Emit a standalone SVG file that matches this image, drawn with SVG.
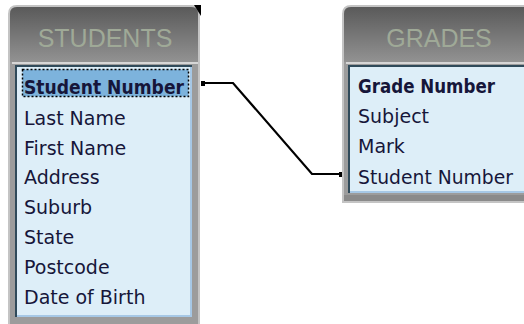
<svg xmlns="http://www.w3.org/2000/svg" width="524" height="324" viewBox="0 0 524 324">
<defs>
<linearGradient id="band" x1="0" y1="0" x2="0" y2="1">
<stop offset="0" stop-color="#5a5a5a"/>
<stop offset="1" stop-color="#929292"/>
</linearGradient>
<style>
.outer{fill:#9c9c9c;stroke:#c4c4c4;stroke-width:2}
.band{fill:url(#band)}
.sep{fill:#d6d6d6}
.dark{fill:#2f4a5a}
.edge{fill:#a6c8e6}
.fill{fill:#ddeef8}
.title{font-family:"Liberation Sans",Arial,sans-serif;font-size:25px;fill:#9fa997;text-anchor:middle}
.row{font-family:"DejaVu Sans",Verdana,sans-serif;font-size:19px;fill:#16163a}
.key{font-weight:bold}
.conn{fill:none;stroke:#000;stroke-width:2.2}
</style>
</defs>
<rect x="0" y="0" width="524" height="324" fill="#ffffff"/>
<g id="students">
<path class="outer" d="M9,330 V14 Q9,6 17,6 H192 Q199,6 199,14 V330 Z"/>
<path class="band" d="M10,62 V14 Q10,7 17,7 H191 Q198,7 198,14 V62 Z"/>
<polygon points="194,5 201,5 201,16" fill="#000"/>
<rect class="sep" x="12" y="62" width="186" height="2"/>
<rect class="dark" x="15" y="65" width="177" height="252"/>
<rect class="edge" x="17" y="67" width="175" height="250"/>
<rect class="fill" x="17" y="67" width="173" height="248"/>
<rect x="22.5" y="69.5" width="166" height="27" fill="#7db3dc" stroke="#000" stroke-width="1.5" stroke-dasharray="2,2"/>
<text class="title" x="105" y="47">STUDENTS</text>
<text class="row key" x="24" y="94" textLength="160" lengthAdjust="spacingAndGlyphs">Student Number</text>
<text class="row" x="24" y="125">Last Name</text>
<text class="row" x="24" y="155">First Name</text>
<text class="row" x="24" y="184">Address</text>
<text class="row" x="24" y="214">Suburb</text>
<text class="row" x="24" y="244">State</text>
<text class="row" x="24" y="274">Postcode</text>
<text class="row" x="24" y="304">Date of Birth</text>
</g>
<g id="grades">
<path class="outer" d="M343,202 V14 Q343,6 351,6 H540 V202 Z"/>
<path class="band" d="M344,62 V14 Q344,7 351,7 H540 V62 Z"/>
<rect class="sep" x="346" y="62" width="190" height="2"/>
<rect class="dark" x="348" y="65" width="190" height="128"/>
<rect class="edge" x="350" y="67" width="188" height="126"/>
<rect class="fill" x="350" y="67" width="188" height="124"/>
<rect x="344" y="195" width="190" height="6" fill="#8a8a8a"/>
<text class="title" x="439" y="47">GRADES</text>
<text class="row key" x="358" y="93" textLength="137" lengthAdjust="spacingAndGlyphs">Grade Number</text>
<text class="row" x="358" y="123">Subject</text>
<text class="row" x="358" y="153">Mark</text>
<text class="row" x="358" y="184" textLength="155" lengthAdjust="spacingAndGlyphs">Student Number</text>
</g>
<g id="connectors">
<path class="conn" d="M204,83 H233 L312,174 H341"/>
<rect x="201" y="81" width="4" height="5" fill="#000"/>
<rect x="339" y="172" width="3" height="5" fill="#000"/>
</g>
</svg>
